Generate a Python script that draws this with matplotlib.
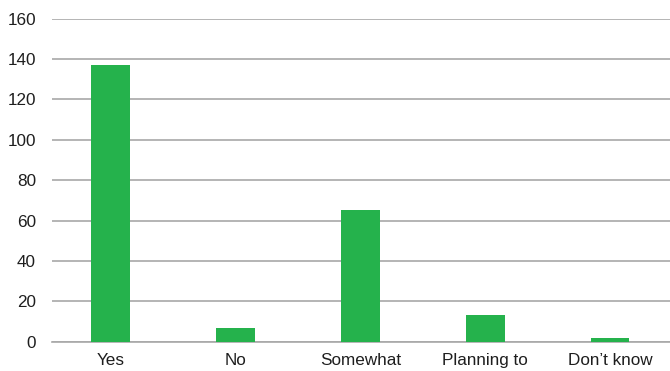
import matplotlib
matplotlib.use('Agg')
import matplotlib.pyplot as plt

plt.rcParams['font.family'] = ['Liberation Sans', 'DejaVu Sans']

categories = ['Yes', 'No', 'Somewhat', 'Planning to', 'Don\u2019t know']
counts = [137, 7, 65, 13, 2]
yticks = [0, 20, 40, 60, 80, 100, 120, 140, 160]

GREEN = '#25B24C'
GRID = '#A8A8A8'
TEXT = '#1E1E1E'

fig = plt.figure(figsize=(6.7, 3.71), dpi=100)
ax = fig.add_axes([0.0776, 0.079, 0.9224, 0.871])

x = range(len(categories))
ax.bar(x, counts, width=0.31, color=GREEN, zorder=3)

ax.set_xlim(-0.47, 4.48)
ax.set_ylim(0, 160)
ax.set_yticks(yticks)
ax.set_xticks(list(x))
ax.set_xticklabels(categories)

ax.yaxis.grid(True, color=GRID, lw=1.2, zorder=0)
ax.set_axisbelow(True)
for s in ax.spines.values():
    s.set_visible(False)
ax.axhline(0, color=GRID, lw=1.2, zorder=1, clip_on=False)

ax.tick_params(axis='both', length=0, labelsize=12.3, colors=TEXT)
ax.tick_params(axis='y', pad=11.5)
ax.tick_params(axis='x', pad=8)

fig.savefig('out.png', dpi=100, facecolor='white')
